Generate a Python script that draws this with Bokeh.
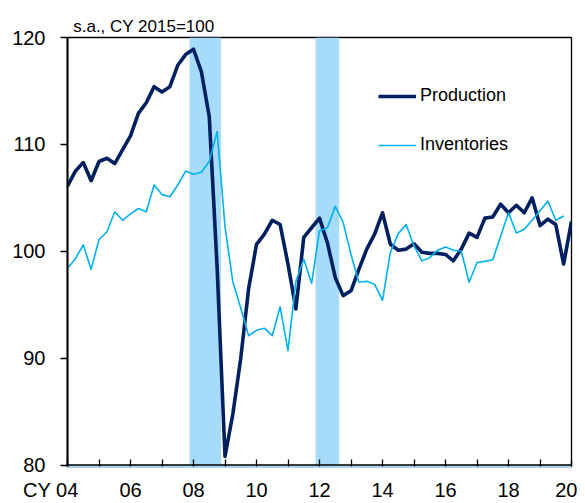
from bokeh.plotting import figure
from bokeh.models import (Range1d, FixedTicker, Span, Legend, LegendItem)
from bokeh.embed import file_html
from bokeh.resources import INLINE

# ---------------- data ----------------
start_year = 2004  # first quarter = 2004Q1
production = [
    106.1, 107.5, 108.3, 106.6, 108.4, 108.7, 108.2, 109.5,   # 2004-2005
    110.8, 112.9, 113.9, 115.4, 114.9, 115.4, 117.4, 118.4,   # 2006-2007
    118.9, 116.8, 112.6, 98.5, 80.8, 84.8, 90.0, 96.5,        # 2008-2009
    100.65, 101.6, 102.9, 102.5, 98.8, 94.6, 101.3, 102.2,    # 2010-2011
    103.1, 100.8, 97.55, 95.85, 96.3, 98.3, 100.2, 101.6,     # 2012-2013
    103.6, 100.65, 100.1, 100.2, 100.7, 99.9, 99.8, 99.8,     # 2014-2015
    99.7, 99.1, 100.2, 101.7, 101.3, 103.1, 103.2, 104.4,     # 2016-2017
    103.6, 104.3, 103.6, 105.0, 102.4, 103.0, 102.5, 98.8,    # 2018-2019
    102.8,                                                    # 2020Q1
]
inventories = [
    98.4, 99.3, 100.6, 98.3, 101.1, 101.8, 103.7, 102.9,
    103.5, 104.0, 103.7, 106.2, 105.3, 105.1, 106.2, 107.5,
    107.2, 107.4, 108.4, 111.2, 102.3, 97.1, 94.7, 92.1,
    92.6, 92.8, 92.1, 94.8, 90.7, 97.2, 99.25, 97.0,
    101.9, 102.2, 104.2, 102.7, 99.7, 97.1, 97.2, 96.9,
    95.4, 99.9, 101.65, 102.5, 100.5, 99.1, 99.4, 100.1,
    100.4, 100.1, 100.0, 97.1, 98.95, 99.05, 99.2, 101.4,
    103.6, 101.7, 102.05, 102.9, 103.8, 104.7, 102.9, 103.3,
]
recession_start = ["2008Q1", "2012Q1"]
recession_end = ["2008Q4", "2012Q3"]
x_tick_years = [2004, 2006, 2008, 2010, 2012, 2014, 2016, 2018, 2020]
x_tick_labels = ["CY 04", "06", "08", "10", "12", "14", "16", "18", "20"]
y_ticks = [80, 90, 100, 110, 120]
unit_note = "s.a., CY 2015=100"
series_names = ["Production", "Inventories"]

# ---------------- helpers ----------------
FONT = "Liberation Sans"
NAVY = "#002060"
SKY = "#00B0F0"
BAND = "#A6DCFA"


def q_to_x(s):
    y, q = s.split("Q")
    return int(y) + (int(q) - 1) / 4


x_prod = [start_year + i / 4 for i in range(len(production))]
x_inv = [start_year + i / 4 for i in range(len(inventories))]
rec_left = [q_to_x(s) - 0.125 for s in recession_start]
rec_right = [q_to_x(s) + 0.125 for s in recession_end]

Y0, Y1 = 79.86, 120

p = figure(width=577, height=503, output_backend="svg", toolbar_location=None,
           x_range=Range1d(x_tick_years[0], x_tick_years[-1]),
           y_range=Range1d(Y0, Y1),
           min_border_left=67, min_border_right=6, min_border_top=37,
           min_border_bottom=35)
p.background_fill_color = "white"
p.border_fill_color = "white"
p.outline_line_color = "black"
p.outline_line_width = 1.3
p.xgrid.visible = False
p.ygrid.visible = False

# title / unit note
p.title.text = unit_note
p.title.align = "left"
p.title.offset = 5.7
p.title.text_font = FONT
p.title.text_font_size = "17px"
p.title.text_font_style = "normal"
p.title.text_color = "black"
p.title.standoff = 4

# recession bands
p.quad(left=rec_left, right=rec_right, bottom=Y0, top=Y1,
       fill_color=BAND, line_color=None)

# base line at 80
p.add_layout(Span(location=y_ticks[0], dimension="width", line_color="black",
                  line_width=1.5))

r_prod = p.line(x_prod, production, line_color=NAVY, line_width=3.6,
                line_join="round")
r_inv = p.line(x_inv, inventories, line_color=SKY, line_width=1.6,
               line_join="round")

# axes
yax = p.yaxis[0]
yax.ticker = FixedTicker(ticks=y_ticks)
yax.minor_tick_line_color = None
yax.major_tick_out = 7
yax.major_tick_in = 0
yax.major_tick_line_width = 1.3
yax.axis_line_width = 2
yax.axis_line_color = "black"
yax.major_label_standoff = 15
yax.major_label_text_font = FONT
yax.major_label_text_font_size = "20px"
yax.major_label_text_color = "black"

xax = p.xaxis[0]
all_years = list(range(x_tick_years[0], x_tick_years[-1] + 1))
xax.ticker = FixedTicker(ticks=all_years)
xax.minor_tick_line_color = None
xax.major_tick_in = 7
xax.major_tick_out = 0
xax.major_tick_line_color = "black"
xax.major_tick_line_width = 1.3
xax.axis_line_color = BAND
xax.axis_line_width = 2
xax.major_label_standoff = 12
xax.major_label_text_font = FONT
xax.major_label_text_font_size = "20px"
xax.major_label_text_color = "black"
overrides = {y: "" for y in all_years}
for i, (yr, lab) in enumerate(zip(x_tick_years, x_tick_labels)):
    # first label sits left of its tick, as in the source chart
    overrides[yr] = lab + "\u00a0" * 6 if i == 0 else lab
xax.major_label_overrides = overrides

legend = Legend(items=[LegendItem(label=series_names[0], renderers=[r_prod]),
                       LegendItem(label=series_names[1], renderers=[r_inv])],
                location=(311, 311), padding=0, margin=0,
                border_line_alpha=0, background_fill_alpha=0,
                glyph_width=38, glyph_height=20, label_height=20,
                label_standoff=4, spacing=28,
                label_text_font=FONT, label_text_font_size="18px",
                label_text_color="black")
p.add_layout(legend)

open("out.html", "w").write(file_html(p, INLINE))
